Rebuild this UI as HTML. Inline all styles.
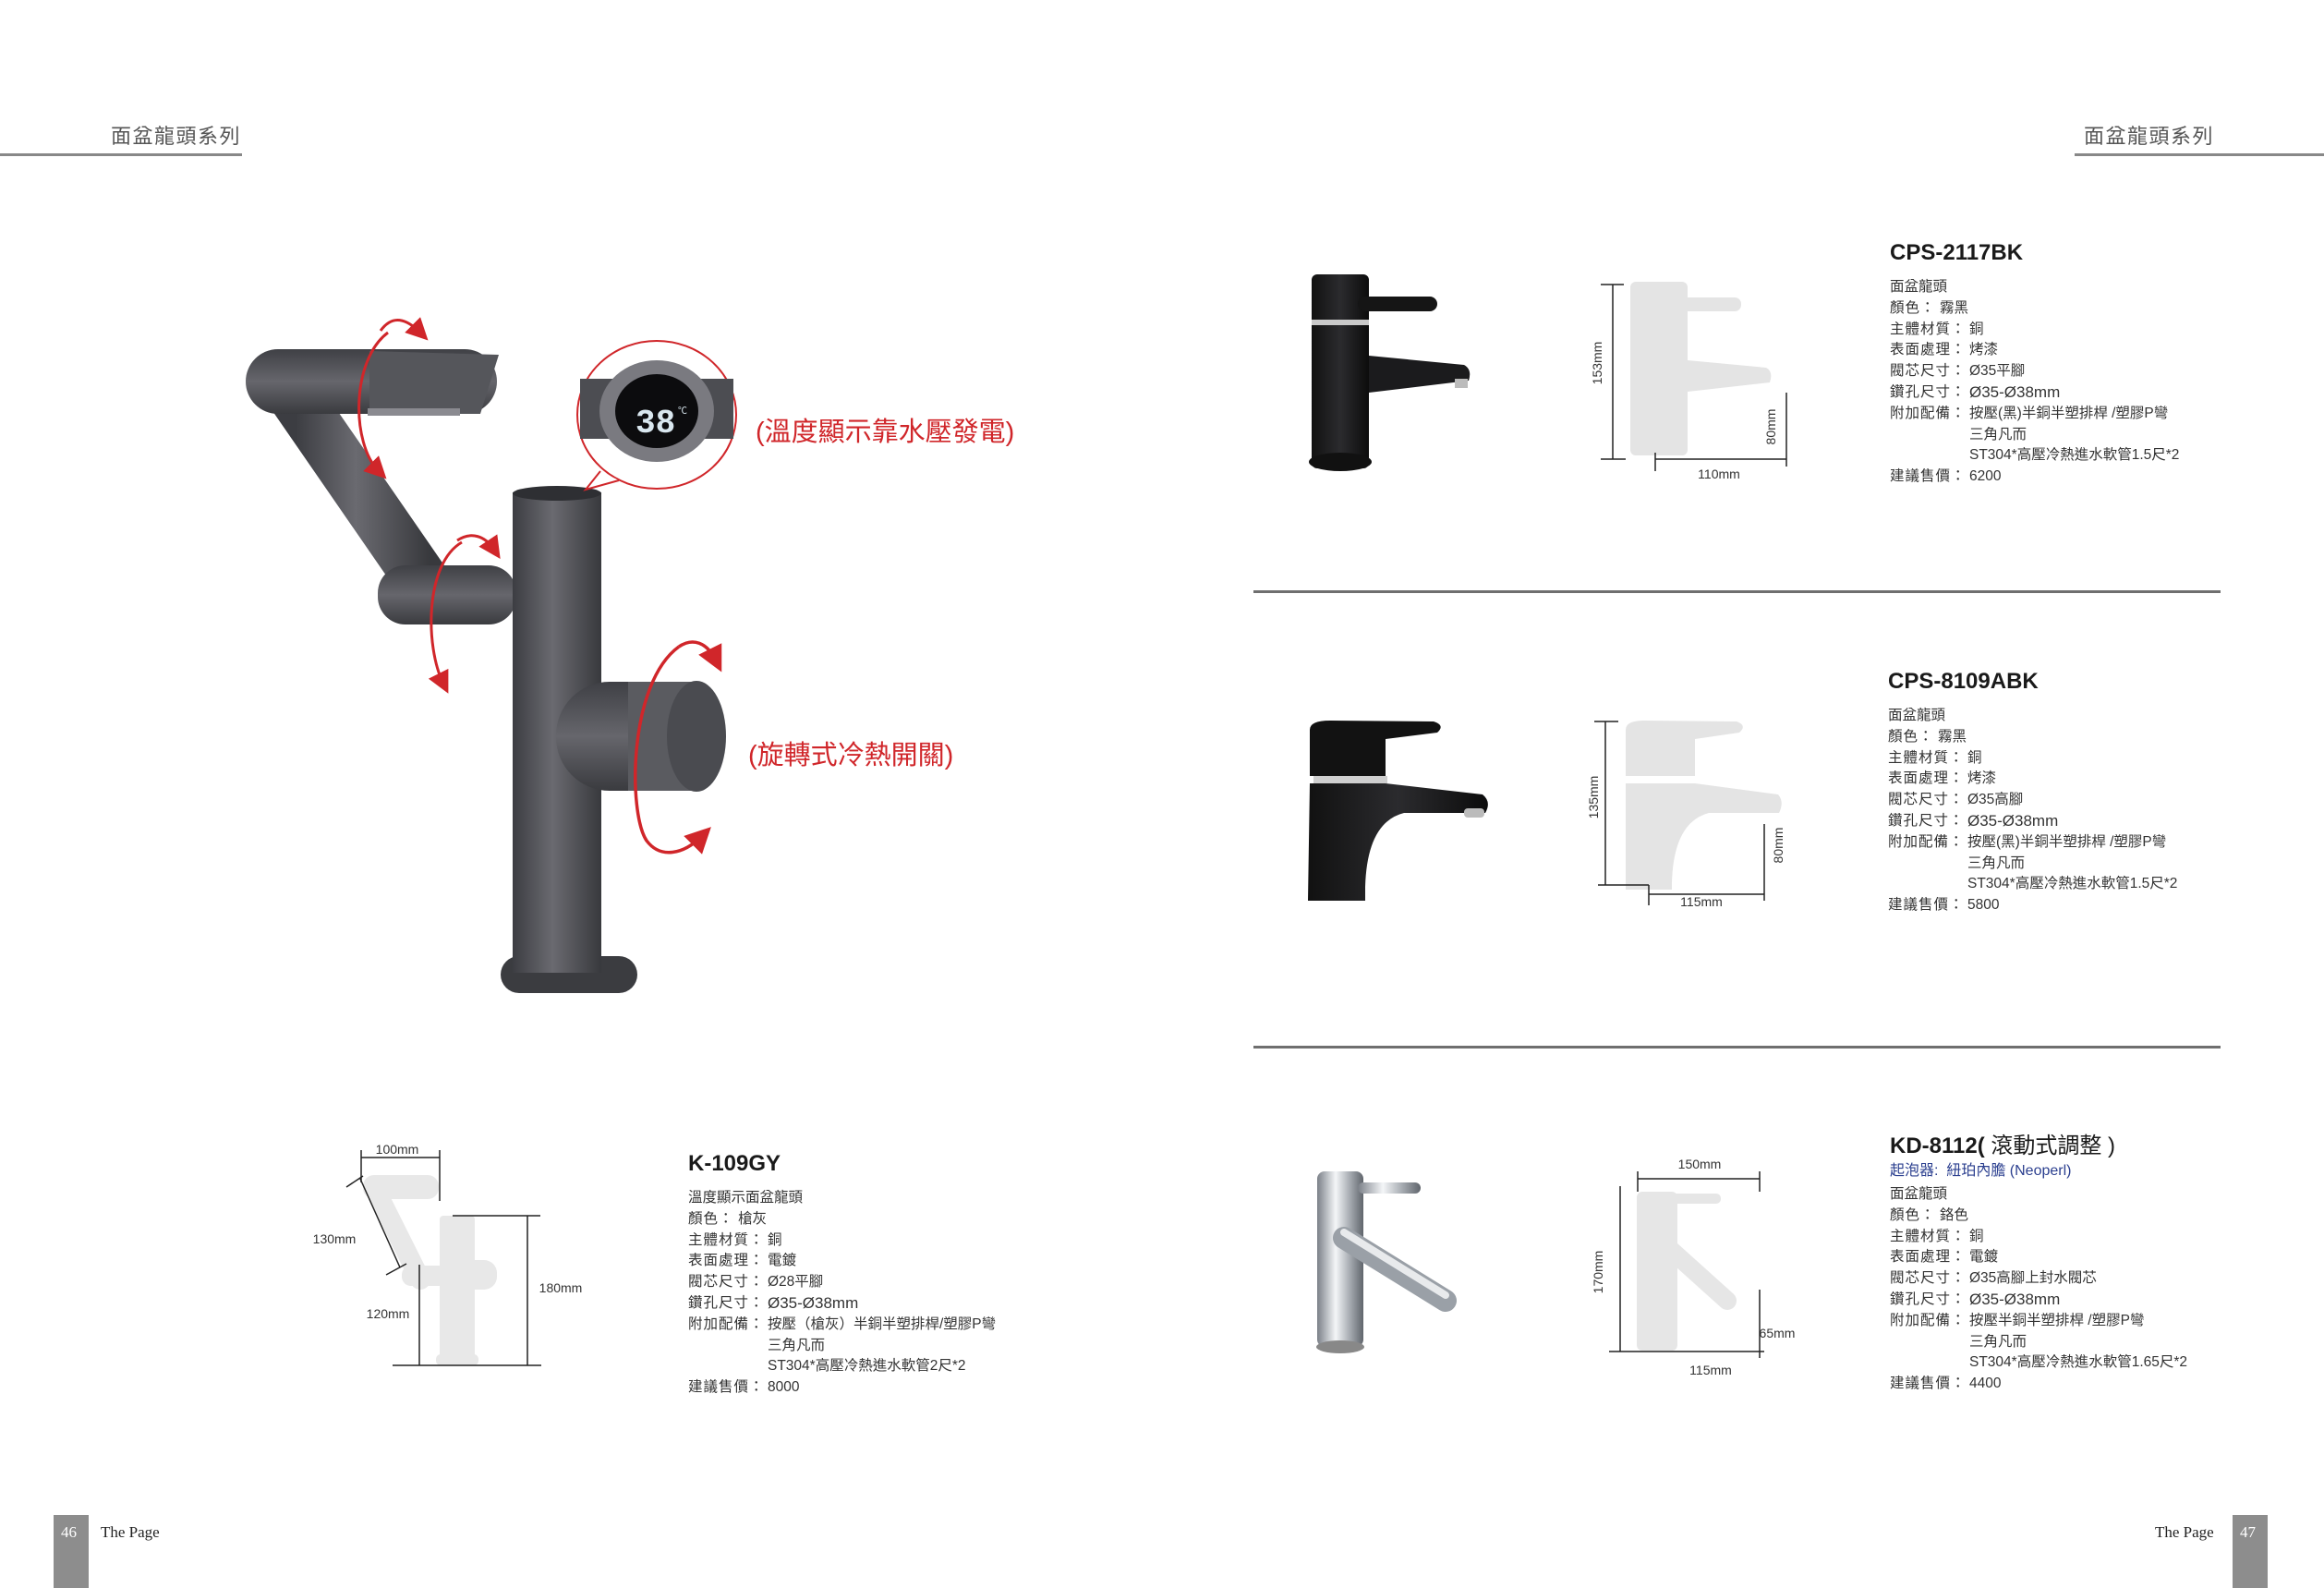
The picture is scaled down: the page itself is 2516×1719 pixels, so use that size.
<!DOCTYPE html>
<html><head><meta charset="utf-8">
<style>
html,body{margin:0;padding:0;background:#fff;}
body{width:2516px;height:1719px;position:relative;overflow:hidden;font-family:"Liberation Sans","Noto Sans CJK TC",sans-serif;color:#333;}
.abs{position:absolute;white-space:nowrap;}
.hdr{font-size:22px;color:#555;letter-spacing:1.5px;}
.title{font-size:24px;font-weight:bold;color:#1a1a1a;}
.spec{font-size:15.5px;line-height:22.8px;color:#333;}
.spec .r{display:flex;}
.spec .l{width:86px;letter-spacing:1px;}
.spec .c{width:54px;letter-spacing:1px;}
.red{font-size:29px;color:#d0262a;}
.ft{font-family:"Liberation Serif",serif;font-size:17px;color:#222;}
</style></head><body>

<div class="abs hdr" style="left:120px;top:130px;">面盆龍頭系列</div>
<div class="abs" style="left:0;top:166px;width:262px;height:3px;background:#888;"></div>
<div class="abs hdr" style="left:2256px;top:130px;">面盆龍頭系列</div>
<div class="abs" style="left:2246px;top:166px;width:270px;height:3px;background:#888;"></div>

<div class="abs" style="left:1357px;top:639px;width:1047px;height:3px;background:#6f6f6f;"></div>
<div class="abs" style="left:1357px;top:1132px;width:1047px;height:3px;background:#6f6f6f;"></div>

<div class="abs" style="left:58px;top:1640px;width:38px;height:79px;background:#8d8d8d;"></div>
<div class="abs ft" style="left:66px;top:1649px;color:#fff;">46</div>
<div class="abs ft" style="left:109px;top:1649px;">The Page</div>
<div class="abs" style="left:2417px;top:1640px;width:38px;height:79px;background:#8d8d8d;"></div>
<div class="abs ft" style="left:2425px;top:1649px;color:#fff;">47</div>
<div class="abs ft" style="left:2333px;top:1649px;">The Page</div>

<div class="abs red" style="left:818px;top:444px;">(溫度顯示靠水壓發電)</div>
<div class="abs red" style="left:810px;top:794px;">(旋轉式冷熱開關)</div>

<div class="abs title" style="left:2046px;top:260px;">CPS-2117BK</div>
<div class="abs spec" style="left:2046px;top:300px;">
<div class="r"><span>面盆龍頭</span></div>
<div class="r"><span class="c">顏色：</span><span>霧黑</span></div>
<div class="r"><span class="l">主體材質：</span><span>銅</span></div>
<div class="r"><span class="l">表面處理：</span><span>烤漆</span></div>
<div class="r"><span class="l">閥芯尺寸：</span><span>Ø35平腳</span></div>
<div class="r"><span class="l">鑽孔尺寸：</span><span style="font-size:17px">Ø35-Ø38mm</span></div>
<div class="r"><span class="l">附加配備：</span><span>按壓(黑)半銅半塑排桿 /塑膠P彎</span></div>
<div class="r"><span class="l"></span><span>三角凡而</span></div>
<div class="r"><span class="l"></span><span>ST304*高壓冷熱進水軟管1.5尺*2</span></div>
<div class="r"><span class="l">建議售價：</span><span>6200</span></div>
</div>

<div class="abs title" style="left:2044px;top:724px;">CPS-8109ABK</div>
<div class="abs spec" style="left:2044px;top:764px;">
<div class="r"><span>面盆龍頭</span></div>
<div class="r"><span class="c">顏色：</span><span>霧黑</span></div>
<div class="r"><span class="l">主體材質：</span><span>銅</span></div>
<div class="r"><span class="l">表面處理：</span><span>烤漆</span></div>
<div class="r"><span class="l">閥芯尺寸：</span><span>Ø35高腳</span></div>
<div class="r"><span class="l">鑽孔尺寸：</span><span style="font-size:17px">Ø35-Ø38mm</span></div>
<div class="r"><span class="l">附加配備：</span><span>按壓(黑)半銅半塑排桿 /塑膠P彎</span></div>
<div class="r"><span class="l"></span><span>三角凡而</span></div>
<div class="r"><span class="l"></span><span>ST304*高壓冷熱進水軟管1.5尺*2</span></div>
<div class="r"><span class="l">建議售價：</span><span>5800</span></div>
</div>

<div class="abs title" style="left:2046px;top:1220px;">KD-8112(<span style="font-weight:normal"> 滾動式調整 )</span></div>
<div class="abs" style="left:2046px;top:1253px;font-size:16px;color:#2b3f8f;">起泡器:&nbsp; 紐珀內膽 (Neoperl)</div>
<div class="abs spec" style="left:2046px;top:1282px;">
<div class="r"><span>面盆龍頭</span></div>
<div class="r"><span class="c">顏色：</span><span>鉻色</span></div>
<div class="r"><span class="l">主體材質：</span><span>銅</span></div>
<div class="r"><span class="l">表面處理：</span><span>電鍍</span></div>
<div class="r"><span class="l">閥芯尺寸：</span><span>Ø35高腳上封水閥芯</span></div>
<div class="r"><span class="l">鑽孔尺寸：</span><span style="font-size:17px">Ø35-Ø38mm</span></div>
<div class="r"><span class="l">附加配備：</span><span>按壓半銅半塑排桿 /塑膠P彎</span></div>
<div class="r"><span class="l"></span><span>三角凡而</span></div>
<div class="r"><span class="l"></span><span>ST304*高壓冷熱進水軟管1.65尺*2</span></div>
<div class="r"><span class="l">建議售價：</span><span>4400</span></div>
</div>

<div class="abs title" style="left:745px;top:1246px;">K-109GY</div>
<div class="abs spec" style="left:745px;top:1286px;">
<div class="r"><span>溫度顯示面盆龍頭</span></div>
<div class="r"><span class="c">顏色：</span><span>槍灰</span></div>
<div class="r"><span class="l">主體材質：</span><span>銅</span></div>
<div class="r"><span class="l">表面處理：</span><span>電鍍</span></div>
<div class="r"><span class="l">閥芯尺寸：</span><span>Ø28平腳</span></div>
<div class="r"><span class="l">鑽孔尺寸：</span><span style="font-size:17px">Ø35-Ø38mm</span></div>
<div class="r"><span class="l">附加配備：</span><span>按壓（槍灰）半銅半塑排桿/塑膠P彎</span></div>
<div class="r"><span class="l"></span><span>三角凡而</span></div>
<div class="r"><span class="l"></span><span>ST304*高壓冷熱進水軟管2尺*2</span></div>
<div class="r"><span class="l">建議售價：</span><span>8000</span></div>
</div>

<svg class="abs" style="left:0;top:0" width="2516" height="1719" viewBox="0 0 2516 1719">
<defs>
<linearGradient id="gm" x1="0" x2="1" y1="0" y2="0">
<stop offset="0" stop-color="#3c3d42"/><stop offset="0.45" stop-color="#6a6a70"/><stop offset="1" stop-color="#38393d"/></linearGradient>
<linearGradient id="gmv" x1="0" x2="0" y1="0" y2="1">
<stop offset="0" stop-color="#3f4045"/><stop offset="0.5" stop-color="#66666c"/><stop offset="1" stop-color="#3a3b3f"/></linearGradient>
<linearGradient id="bk" x1="0" x2="1"><stop offset="0" stop-color="#111"/><stop offset="0.5" stop-color="#2b2b2e"/><stop offset="1" stop-color="#0c0c0c"/></linearGradient>
<linearGradient id="cr" x1="0" x2="1"><stop offset="0" stop-color="#7b8088"/><stop offset="0.4" stop-color="#f4f6f8"/><stop offset="0.7" stop-color="#a8adb3"/><stop offset="1" stop-color="#60656c"/></linearGradient>
<marker id="ah" markerWidth="8" markerHeight="8" refX="4" refY="4" orient="auto"><path d="M0,0 L8,4 L0,8 Z" fill="#d0262a"/></marker>
</defs>

<line x1="320" y1="430" x2="465" y2="640" stroke="url(#gm)" stroke-width="58" stroke-linecap="round"/>
<rect x="409" y="612" width="150" height="64" rx="30" fill="url(#gmv)"/>
<rect x="266" y="378" width="272" height="70" rx="35" fill="url(#gmv)"/>
<path d="M400 380 L540 384 L520 448 L400 448 Z" fill="#55565b"/>
<rect x="398" y="442" width="100" height="8" fill="#8a8a90"/>
<rect x="542" y="1035" width="148" height="40" rx="20" fill="#3b3c40"/>
<rect x="555" y="533" width="96" height="520" fill="url(#gm)"/>
<ellipse cx="603" cy="534" rx="48" ry="8" fill="#2e2f33"/>
<rect x="602" y="738" width="160" height="118" rx="58" fill="url(#gmv)"/>
<rect x="680" y="738" width="80" height="118" fill="#5a5b60"/>
<ellipse cx="754" cy="797" rx="32" ry="60" fill="#4a4b50"/>
<path d="M420 360 C380 390 380 480 410 510" fill="none" stroke="#d0262a" stroke-width="3" marker-end="url(#ah)"/>
<path d="M412 358 C425 340 440 345 455 360" fill="none" stroke="#d0262a" stroke-width="3" marker-end="url(#ah)"/>
<path d="M500 587 C460 610 460 700 480 740" fill="none" stroke="#d0262a" stroke-width="3" marker-end="url(#ah)"/>
<path d="M495 585 C510 575 525 580 535 595" fill="none" stroke="#d0262a" stroke-width="3" marker-end="url(#ah)"/>
<path d="M735 700 C680 740 680 880 700 910 C715 930 740 925 760 905" fill="none" stroke="#d0262a" stroke-width="3.5" marker-end="url(#ah)"/>
<path d="M735 700 C750 690 765 695 775 715" fill="none" stroke="#d0262a" stroke-width="3.5" marker-end="url(#ah)"/>
<ellipse cx="711" cy="449" rx="86" ry="80" fill="#fff" stroke="#d0262a" stroke-width="2"/>
<rect x="628" y="410" width="166" height="65" fill="#4c4d52"/>
<ellipse cx="711" cy="445" rx="62" ry="55" fill="#7a7a80"/>
<ellipse cx="711" cy="445" rx="45" ry="40" fill="#0c0c0e"/>
<text x="688" y="468" font-family="Liberation Mono,monospace" font-size="36" fill="#d9e7ef" font-weight="bold">38</text>
<text x="734" y="448" font-size="10" fill="#d9e7ef">℃</text>
<path d="M650 510 L634 530 L670 520" fill="#fff" stroke="#d0262a" stroke-width="2"/>

<rect x="1420" y="297" width="62" height="210" rx="6" fill="url(#bk)"/>
<ellipse cx="1451" cy="500" rx="34" ry="10" fill="#111"/>
<rect x="1420" y="346" width="62" height="6" fill="#c9c9c9"/>
<rect x="1470" y="321" width="86" height="16" rx="8" fill="#151515"/>
<path d="M1482 385 L1585 395 Q1594 400 1590 412 L1482 425 Z" fill="#1b1b1d"/>
<rect x="1575" y="410" width="14" height="10" fill="#bbb"/>
<g fill="#e4e4e4">
<rect x="1765" y="305" width="62" height="188" rx="6"/>
<rect x="1815" y="322" width="70" height="15" rx="7"/>
<path d="M1827 390 L1912 398 Q1920 402 1916 414 L1827 424 Z"/>
</g>
<g stroke="#222" stroke-width="1.5" fill="none">
<line x1="1746" y1="308" x2="1746" y2="497"/><line x1="1733" y1="308" x2="1758" y2="308"/><line x1="1733" y1="497" x2="1760" y2="497"/>
<line x1="1792" y1="497" x2="1934" y2="497"/><line x1="1792" y1="490" x2="1792" y2="510"/>
<line x1="1934" y1="425" x2="1934" y2="505"/>
</g>
<text x="1734" y="393" font-size="14" fill="#333" transform="rotate(-90 1734 393)" text-anchor="middle">153mm</text>
<text x="1861" y="518" font-size="14" fill="#333" text-anchor="middle">110mm</text>
<text x="1922" y="462" font-size="14" fill="#333" transform="rotate(-90 1922 462)" text-anchor="middle">80mm</text>

<path d="M1418 790 Q1418 780 1440 780 L1552 781 Q1565 785 1556 793 L1500 800 L1500 840 L1418 840 Z" fill="#121212"/>
<rect x="1422" y="840" width="80" height="8" fill="#cfcfcf"/>
<path d="M1418 848 L1500 848 L1605 860 Q1615 868 1608 880 L1520 880 Q1480 890 1478 960 L1478 975 L1416 975 Z" fill="url(#bk)"/>
<rect x="1585" y="875" width="22" height="10" rx="4" fill="#bbb"/>
<g fill="#e4e4e4">
<path d="M1760 790 Q1760 780 1780 780 L1880 781 Q1892 785 1883 793 L1835 800 L1835 840 L1760 840 Z"/>
<path d="M1760 848 L1835 848 L1925 860 Q1932 868 1926 880 L1850 880 Q1812 890 1810 955 L1810 963 L1760 963 Z"/>
</g>
<g stroke="#222" stroke-width="1.5" fill="none">
<line x1="1738" y1="781" x2="1738" y2="958"/><line x1="1726" y1="781" x2="1752" y2="781"/><line x1="1730" y1="958" x2="1785" y2="958"/>
<line x1="1785" y1="958" x2="1785" y2="980"/><line x1="1785" y1="968" x2="1910" y2="968"/><line x1="1910" y1="892" x2="1910" y2="975"/>
</g>
<text x="1730" y="863" font-size="14" fill="#333" transform="rotate(-90 1730 863)" text-anchor="middle">135mm</text>
<text x="1842" y="981" font-size="14" fill="#333" text-anchor="middle">115mm</text>
<text x="1930" y="915" font-size="14" fill="#333" transform="rotate(-90 1930 915)" text-anchor="middle">80mm</text>

<rect x="1426" y="1268" width="50" height="190" rx="8" fill="url(#cr)"/>
<ellipse cx="1451" cy="1458" rx="26" ry="7" fill="#888"/>
<rect x="1470" y="1280" width="68" height="12" rx="6" fill="url(#cr)"/>
<line x1="1455" y1="1340" x2="1565" y2="1408" stroke="#9aa0a7" stroke-width="24" stroke-linecap="round"/>
<line x1="1455" y1="1334" x2="1565" y2="1402" stroke="#e8eaec" stroke-width="8" stroke-linecap="round"/>
<g fill="#e6e6e6">
<rect x="1772" y="1290" width="44" height="172" rx="6"/>
<rect x="1805" y="1292" width="58" height="11" rx="5"/>
</g>
<line x1="1800" y1="1345" x2="1870" y2="1408" stroke="#e6e6e6" stroke-width="20" stroke-linecap="round"/>
<g stroke="#222" stroke-width="1.5" fill="none">
<line x1="1773" y1="1276" x2="1905" y2="1276"/><line x1="1773" y1="1268" x2="1773" y2="1290"/><line x1="1905" y1="1268" x2="1905" y2="1290"/>
<line x1="1754" y1="1284" x2="1754" y2="1463"/><line x1="1742" y1="1463" x2="1910" y2="1463"/>
<line x1="1905" y1="1396" x2="1905" y2="1470"/>
</g>
<text x="1840" y="1265" font-size="14" fill="#333" text-anchor="middle">150mm</text>
<text x="1735" y="1377" font-size="14" fill="#333" transform="rotate(-90 1735 1377)" text-anchor="middle">170mm</text>
<text x="1852" y="1488" font-size="14" fill="#333" text-anchor="middle">115mm</text>
<text x="1924" y="1448" font-size="14" fill="#333" text-anchor="middle">65mm</text>

<g fill="#e8e8e8">
<line x1="410" y1="1295" x2="455" y2="1385" stroke="#e8e8e8" stroke-width="22" stroke-linecap="round"/>
<rect x="435" y="1370" width="50" height="22" rx="10"/>
<rect x="393" y="1272" width="82" height="26" rx="12"/>
<rect x="476" y="1316" width="38" height="158" rx="4"/>
<rect x="472" y="1466" width="46" height="12" rx="5"/>
<rect x="500" y="1364" width="38" height="32" rx="14"/>
</g>
<g stroke="#222" stroke-width="1.5" fill="none">
<line x1="391" y1="1253" x2="476" y2="1253"/><line x1="391" y1="1245" x2="391" y2="1280"/><line x1="476" y1="1245" x2="476" y2="1300"/>
<line x1="390" y1="1276" x2="433" y2="1372"/><line x1="375" y1="1285" x2="393" y2="1273"/><line x1="418" y1="1380" x2="440" y2="1368"/>
<line x1="454" y1="1369" x2="454" y2="1478"/><line x1="571" y1="1316" x2="571" y2="1478"/><line x1="490" y1="1316" x2="585" y2="1316"/>
<line x1="425" y1="1478" x2="586" y2="1478"/>
</g>
<text x="430" y="1249" font-size="14" fill="#333" text-anchor="middle">100mm</text>
<text x="362" y="1346" font-size="14" fill="#333" text-anchor="middle">130mm</text>
<text x="420" y="1427" font-size="14" fill="#333" text-anchor="middle">120mm</text>
<text x="607" y="1399" font-size="14" fill="#333" text-anchor="middle">180mm</text>
</svg>
</body></html>
